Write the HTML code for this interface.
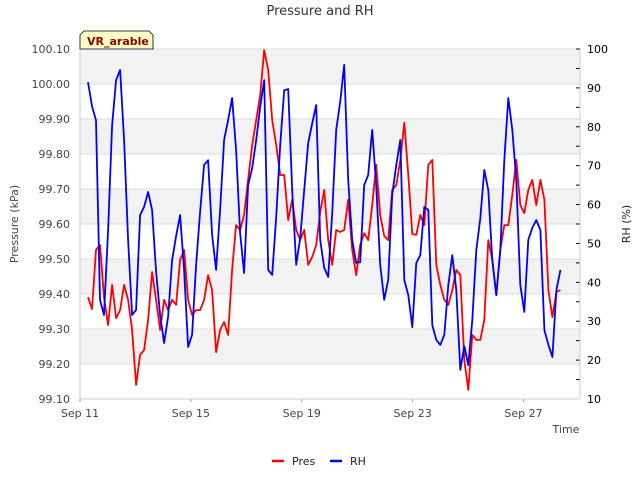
<!DOCTYPE html>
<html><head><meta charset="utf-8"><style>
body{margin:0;background:#fff;font-family:"Liberation Sans","DejaVu Sans",sans-serif;}
svg text{font-family:"DejaVu Sans","Liberation Sans",sans-serif;}
</style></head><body>
<svg id="chart" width="640" height="480" viewBox="0 0 640 480">
<text x="320" y="15" text-anchor="middle" font-size="13" fill="#333">Pressure and RH</text>
<g id="bands"></g>
<g id="axes"></g>
<g id="series"></g>
<g>
<path d="M80,49 L80,35 L84,31 L149,31 L153,35 L153,49 Z" fill="#ffffc8" stroke="#000" stroke-width="0.8"/>
<text x="87" y="45" font-size="11" font-weight="bold" fill="#8b0000">VR_arable</text>
</g>
<text x="566" y="433" text-anchor="middle" font-size="11" fill="#444">Time</text>
<text transform="translate(18,224) rotate(-90)" text-anchor="middle" font-size="11" fill="#444">Pressure (kPa)</text>
<text transform="translate(630,224) rotate(-90)" text-anchor="middle" font-size="11" fill="#222">RH (%)</text>
<g>
<line x1="272" y1="461" x2="284" y2="461" stroke="#f00" stroke-width="2.5"/>
<text x="292" y="465" font-size="11" fill="#222">Pres</text>
<line x1="330" y1="461" x2="342" y2="461" stroke="#00f" stroke-width="2.5"/>
<text x="350" y="465" font-size="11" fill="#222">RH</text>
</g>
</svg>
<script>
const startDay = 0.29;      // days after Sep 11 00:00
const stepDay = 0.1444;     // sampling interval in days
const xTickLabels = ["Sep 11","Sep 15","Sep 19","Sep 23","Sep 27"];
const xTickDays = [0,4,8,12,16];
const pTicks = ["99.10","99.20","99.30","99.40","99.50","99.60","99.70","99.80","99.90","100.00","100.10"];
const rhTicks = [10,20,30,40,50,60,70,80,90,100];
const pres = [99.391,99.357,99.526,99.540,99.391,99.311,99.426,99.331,99.354,99.426,99.383,99.297,99.140,99.226,99.240,99.326,99.463,99.383,99.297,99.383,99.354,99.383,99.369,99.497,99.526,99.383,99.340,99.354,99.354,99.383,99.454,99.411,99.234,99.297,99.320,99.283,99.469,99.597,99.583,99.626,99.726,99.826,99.897,99.969,100.097,100.040,99.897,99.826,99.740,99.740,99.611,99.669,99.583,99.554,99.583,99.483,99.506,99.540,99.634,99.697,99.554,99.483,99.583,99.577,99.583,99.669,99.526,99.454,99.540,99.574,99.554,99.654,99.769,99.626,99.566,99.554,99.697,99.711,99.783,99.889,99.740,99.571,99.569,99.626,99.597,99.769,99.783,99.483,99.426,99.383,99.369,99.411,99.469,99.454,99.211,99.126,99.283,99.269,99.269,99.326,99.554,99.497,99.397,99.526,99.597,99.597,99.683,99.783,99.654,99.631,99.697,99.726,99.654,99.726,99.669,99.411,99.334,99.406,99.411];
const rh = [91.5,85.3,81.7,35.5,31.6,53.4,80.4,92.0,94.6,76.6,50.9,31.6,32.9,57.3,59.4,63.2,58.6,42.7,31.6,24.4,31.1,45.7,51.9,57.3,43.2,23.4,26.5,44.5,58.1,70.2,71.4,52.2,43.2,58.6,76.6,81.7,87.4,74.0,52.7,42.4,65.0,69.4,76.6,85.1,92.0,43.2,41.9,56.8,75.3,89.4,89.7,63.7,44.5,51.4,63.7,75.8,80.9,85.6,50.9,43.7,41.4,57.8,79.2,86.4,95.9,66.3,50.9,45.0,45.2,65.0,67.6,79.2,65.0,44.5,35.5,40.6,62.5,70.2,76.6,40.6,36.7,28.5,45.0,47.0,59.4,58.6,29.0,25.2,23.9,26.5,39.3,47.0,38.0,17.5,23.6,18.7,30.3,48.3,56.5,68.9,63.7,45.7,36.7,48.3,71.4,87.4,79.2,66.3,39.3,32.4,50.9,54.0,56.0,53.4,27.7,23.9,20.8,38.0,43.2];

const L=80,R=580,T=49,B=399;
const xs=d=>L+d*27.72;
const yp=v=>B-(v-99.1)/1.0*(B-T);
const yr=v=>B-(v-10)/90*(B-T);
const NS="http://www.w3.org/2000/svg";
function mk(tag,parent,attrs){const e=document.createElementNS(NS,tag);for(const k in attrs)e.setAttribute(k,attrs[k]);parent.appendChild(e);return e;}
const bands=document.getElementById('bands'),axes=document.getElementById('axes'),series=document.getElementById('series');
for(let i=0;i<pTicks.length-1;i++){
  const v0=99.1+i*0.1;
  const r=mk('rect',bands,{x:L,y:yp(v0+0.1),width:R-L,height:yp(v0)-yp(v0+0.1),fill:(i%2===1)?'#f2f2f2':'#fff'});
  
  
}
pTicks.forEach((t,i)=>{
  const y=yp(parseFloat(t));
  const g=mk('line',axes,{x1:L,x2:R,y1:y,y2:y,stroke:'#dcdcdc','stroke-width':1});
  
  
  const tx=mk('text',axes,{x:L-10,y:y+4,'text-anchor':'end','font-size':11,fill:'#444'});
  tx.textContent=t;
  
  
});
rhTicks.forEach(v=>{
  const y=yr(v);
  mk('line',axes,{x1:R,x2:R-4,y1:y,y2:y,stroke:'#000','stroke-width':1});
  const tx=mk('text',axes,{x:R+7,y:y+4,'font-size':11,fill:'#000'});
  tx.textContent=v;
  
  
  if(v<100){const y2=yr(v+5);mk('line',axes,{x1:R,x2:R-4,y1:y2,y2:y2,stroke:'#000','stroke-width':1});}
});
xTickDays.forEach((d,i)=>{
  const x=xs(d);
  mk('line',axes,{x1:x,x2:x,y1:B,y2:B+3,stroke:'#999'});
  const tx=mk('text',axes,{x:x,y:B+18,'text-anchor':'middle','font-size':11,fill:'#444'});
  tx.textContent=xTickLabels[i];
  
  
});
mk('line',axes,{x1:L,x2:R,y1:B,y2:B,stroke:'#ccc'});
mk('line',axes,{x1:L,x2:L,y1:T,y2:B,stroke:'#ccc'});
mk('line',axes,{x1:R,x2:R,y1:T,y2:B,stroke:'#ccc'});
function line(arr,yf,color,name){
  const d=arr.map((v,i)=>(i?'L':'M')+xs(startDay+i*stepDay).toFixed(1)+','+yf(v).toFixed(1)).join('');
  const p=mk('path',series,{d:d,fill:'none',stroke:color,'stroke-width':1.8,'stroke-linejoin':'round'});
  
  
}
line(pres,yp,'#f00','pres-line');
line(rh,yr,'#00f','rh-line');
</script>
</body></html>
